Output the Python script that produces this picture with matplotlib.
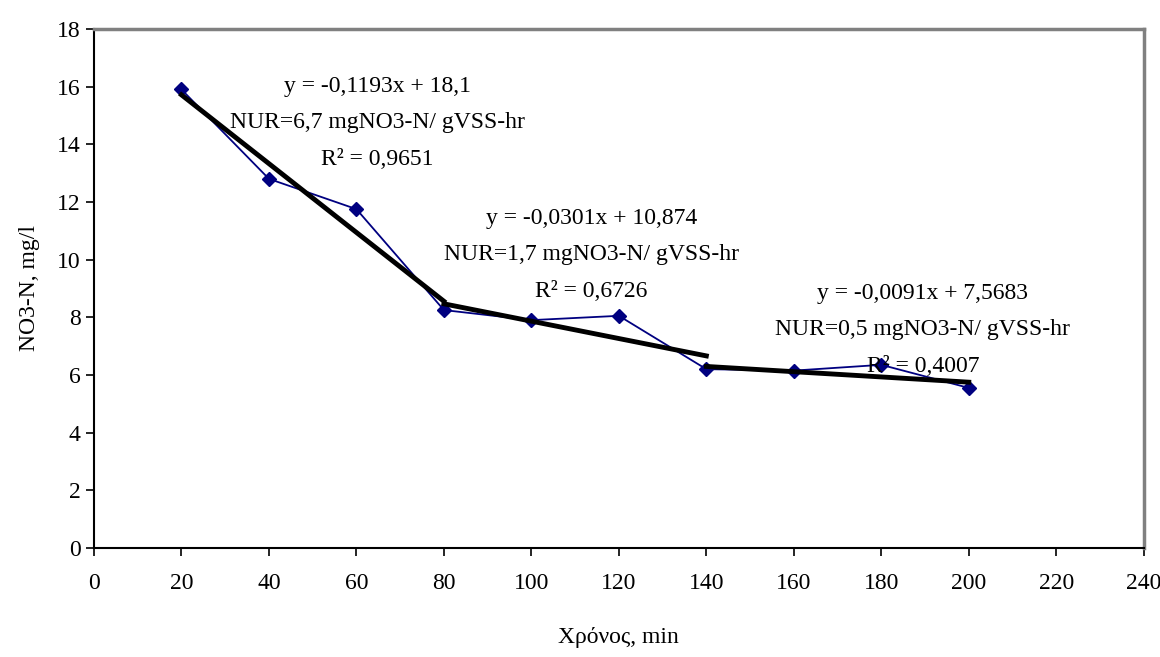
import matplotlib
matplotlib.use("Agg")
import matplotlib.pyplot as plt
import numpy as np

time_min = [20, 40, 60, 80, 100, 120, 140, 160, 180, 200]
no3_n = [15.9, 12.8, 11.75, 8.25, 7.9, 8.05, 6.2, 6.15, 6.35, 5.55]

# trend line segments: (x start, x end, slope, intercept)
seg_x = [(20, 80), (80, 140), (140, 200)]
seg_slope = [-0.1193, -0.0301, -0.0091]
seg_intercept = [18.1, 10.874, 7.5683]
seg_labels = [
    "y = -0,1193x + 18,1\nNUR=6,7 mgNO3-N/ gVSS-hr\nR² = 0,9651",
    "y = -0,0301x + 10,874\nNUR=1,7 mgNO3-N/ gVSS-hr\nR² = 0,6726",
    "y = -0,0091x + 7,5683\nNUR=0,5 mgNO3-N/ gVSS-hr\nR² = 0,4007",
]
label_pos = [(64.8, 14.74), (113.7, 10.16), (189.5, 7.56)]

plt.rcParams['font.family'] = ['Liberation Serif', 'DejaVu Serif']

fig = plt.figure(figsize=(11.6, 6.57), dpi=100)
ax = fig.add_axes([0.081, 0.166, 0.905, 0.79])

ax.plot(time_min, no3_n, color='#000080', lw=1.3, marker='D', ms=7,
        markerfacecolor='#000080', markeredgecolor='#000080', zorder=3)

for (x0, x1), m, b in zip(seg_x, seg_slope, seg_intercept):
    xs = np.array([x0, x1], dtype=float)
    ax.plot(xs, m * xs + b, color='black', lw=3.5, zorder=4)

for txt, (x, y) in zip(seg_labels, label_pos):
    ax.text(x, y, txt, ha='center', va='center', fontsize=17,
            linespacing=1.95, zorder=5)

ax.set_xlim(0, 240)
ax.set_ylim(0, 18)
ax.set_xticks(np.arange(0, 241, 20))
ax.set_yticks(np.arange(0, 19, 2))
ax.tick_params(axis='both', labelsize=17, direction='out', length=6, width=1.2)
ax.tick_params(axis='x', pad=12)

for s in ['top', 'right']:
    ax.spines[s].set_color('#808080')
    ax.spines[s].set_linewidth(2.5)
for s in ['left', 'bottom']:
    ax.spines[s].set_color('black')
    ax.spines[s].set_linewidth(1.5)

ax.set_xlabel('Χρόνος, min', fontsize=17, labelpad=24)
ax.set_ylabel('NO3-N, mg/l', fontsize=17, labelpad=12)

fig.savefig('out.png', dpi=100, facecolor='white')
